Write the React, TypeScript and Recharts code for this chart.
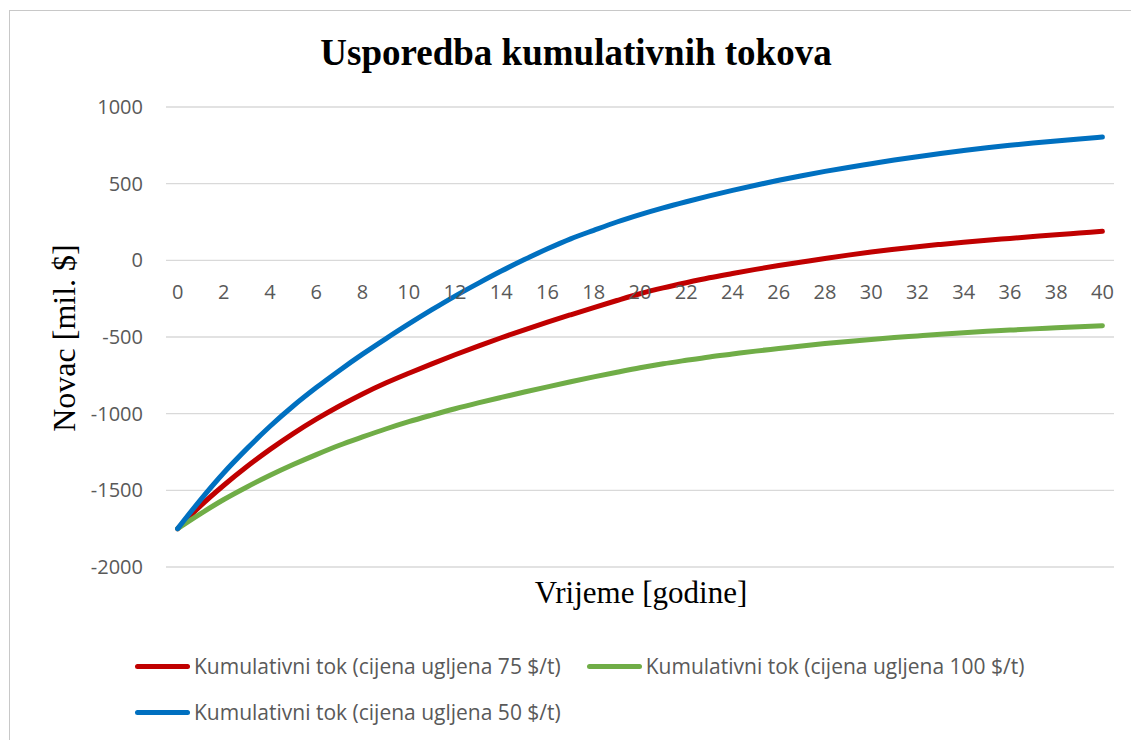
import React from 'react';
import { LineChart, Line, XAxis, YAxis, CartesianGrid, Legend } from 'recharts';

const years = [
  0, 1, 2, 3, 4, 5, 6, 7, 8, 9, 10, 11, 12, 13, 14, 15, 16, 17, 18, 19, 20,
  21, 22, 23, 24, 25, 26, 27, 28, 29, 30, 31, 32, 33, 34, 35, 36, 37, 38, 39, 40,
];

// cumulative cash flow, coal price 75 $/t
const coal75 = [
  -1750, -1600, -1467, -1345, -1233, -1130, -1036, -950, -871, -800, -736,
  -675, -616, -559, -505, -453, -403, -355, -308, -262, -218,
  -180, -146, -114, -86, -59, -34, -11, 12, 34, 54,
  72, 89, 104, 118, 131, 143, 155, 167, 178, 189,
];

// cumulative cash flow, coal price 100 $/t
const coal100 = [
  -1750, -1652, -1560, -1478, -1402, -1332, -1267, -1206, -1152, -1100, -1052,
  -1009, -968, -930, -894, -859, -825, -792, -760, -730, -701,
  -675, -652, -630, -611, -592, -575, -558, -543, -529, -516,
  -504, -493, -482, -472, -463, -455, -447, -440, -433, -426,
];

// cumulative cash flow, coal price 50 $/t
const coal50 = [
  -1750, -1560, -1385, -1228, -1082, -950, -830, -718, -612, -512, -415,
  -322, -233, -150, -70, 5, 75, 140, 196, 250, 298,
  342, 382, 420, 456, 490, 522, 552, 580, 606, 630,
  654, 676, 697, 716, 734, 750, 765, 779, 792, 804,
];

const yTicks = [-2000, -1500, -1000, -500, 0, 500, 1000];

const seriesNames = [
  'Kumulativni tok (cijena ugljena 75 $/t)',
  'Kumulativni tok (cijena ugljena 100 $/t)',
  'Kumulativni tok (cijena ugljena 50 $/t)',
];

const data = years.map((year, i) => ({
  year,
  c75: coal75[i],
  c100: coal100[i],
  c50: coal50[i],
}));

const W = 1131;
const H = 740;
const PLOT_TOP = 107;
const PLOT_BOTTOM = 567;
const Y_MIN = -2000;
const Y_MAX = 1000;
// the category labels sit just under the zero line, like Excel does it
const zeroY = PLOT_TOP + (Y_MAX / (Y_MAX - Y_MIN)) * (PLOT_BOTTOM - PLOT_TOP);

const tickFont = { fill: '#595959', fontSize: 20, fontFamily: 'Open Sans' };

const XTick = ({ x, payload }: any) => (
  <text x={x} y={zeroY + 38.5} textAnchor="middle" {...tickFont}>
    {payload.value}
  </text>
);

const renderLegend = ({ payload }: any) => {
  // keep the series order (recharts sorts by name otherwise)
  const items = [...(payload || [])].sort(
    (a: any, b: any) => seriesNames.indexOf(a.value) - seriesNames.indexOf(b.value)
  );
  return (
    <div
      style={{
        display: 'flex',
        flexWrap: 'wrap',
        columnGap: 26,
        rowGap: 18,
        paddingLeft: 135,
        boxSizing: 'border-box',
        width: W,
      }}
    >
      {items.map((entry: any) => (
        <div key={entry.value} style={{ display: 'flex', alignItems: 'center', height: 28 }}>
          <div style={{ width: 55, height: 5, borderRadius: 3, background: entry.color, marginRight: 4 }} />
          <span style={{ fontFamily: 'Open Sans', fontSize: 21, color: '#595959', whiteSpace: 'nowrap' }}>
            {entry.value}
          </span>
        </div>
      ))}
    </div>
  );
};

export default function App() {
  return (
    <div style={{ position: 'absolute', left: 0, top: 0, width: W, height: H, overflow: 'hidden', background: '#fff' }}>
      <div
        style={{
          position: 'absolute',
          left: 9,
          top: 10,
          width: W,
          height: H,
          borderLeft: '1px solid #c8c8c8',
          borderTop: '1px solid #c8c8c8',
        }}
      />
      <LineChart width={W} height={H} data={data} margin={{ top: PLOT_TOP, right: 17, left: 86, bottom: 143 }}>
        <CartesianGrid vertical={false} stroke="#d9d9d9" strokeWidth={1.3} />
        <XAxis
          dataKey="year"
          interval={1}
          axisLine={false}
          tickLine={false}
          tick={XTick}
          height={30}
          padding={{ left: 11.6, right: 11.6 }}
        />
        <YAxis
          width={80}
          domain={[Y_MIN, Y_MAX]}
          ticks={yTicks}
          axisLine={false}
          tickLine={false}
          tickSize={0}
          tickMargin={23}
          tick={tickFont}
        />
        <Legend
          verticalAlign="middle"
          align="center"
          layout="horizontal"
          wrapperStyle={{ top: 652, left: 0, width: W }}
          content={renderLegend}
        />
        <Line
          name={seriesNames[0]}
          dataKey="c75"
          type="monotone"
          stroke="#C00000"
          strokeWidth={5}
          strokeLinecap="round"
          dot={false}
          isAnimationActive={false}
        />
        <Line
          name={seriesNames[1]}
          dataKey="c100"
          type="monotone"
          stroke="#70AD47"
          strokeWidth={5}
          strokeLinecap="round"
          dot={false}
          isAnimationActive={false}
        />
        <Line
          name={seriesNames[2]}
          dataKey="c50"
          type="monotone"
          stroke="#0070C0"
          strokeWidth={5}
          strokeLinecap="round"
          dot={false}
          isAnimationActive={false}
        />
      </LineChart>
      <svg
        width={W}
        height={H}
        style={{ position: 'absolute', left: 0, top: 0, pointerEvents: 'none' }}
      >
        <text x={576} y={65} textAnchor="middle" fontFamily="'Liberation Serif', serif" fontWeight="bold" fontSize={37} fill="#000">
          Usporedba kumulativnih tokova
        </text>
        <text
          x={75}
          y={338}
          transform="rotate(-90 75 338)"
          textAnchor="middle"
          fontFamily="'Liberation Serif', serif"
          fontSize={32}
          fill="#000"
        >
          Novac [mil. $]
        </text>
        <text x={641} y={603} textAnchor="middle" fontFamily="'Liberation Serif', serif" fontSize={31} fill="#000">
          Vrijeme [godine]
        </text>
      </svg>
    </div>
  );
}
